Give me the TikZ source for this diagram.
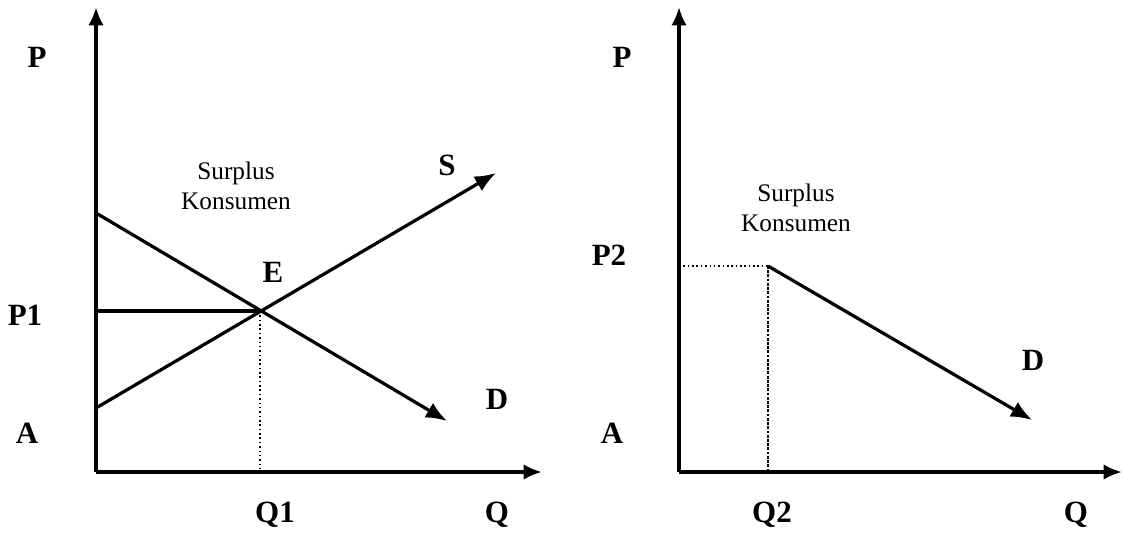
\documentclass[tikz,border=0pt]{standalone}
\usepackage{fontspec}
\setmainfont{Liberation Serif}
\usetikzlibrary{arrows.meta}
\tikzset{
  axisline/.style={line width=2.8pt, -{Latex[length=13pt,width=11pt]}},
  curveline/.style={line width=2.3pt, -{Latex[length=15pt,width=12pt]}},
  plainline/.style={line width=2.6pt},
  guidethin/.style={line width=1.1pt, dotted},
  guidethick/.style={line width=2pt, densely dotted},
  axislabel/.style={inner sep=0pt, font=\fontsize{22}{24}\selectfont\bfseries},
  arealabel/.style={inner sep=0pt, align=center, font=\fontsize{18}{21}\selectfont},
}

\begin{document}
\begin{tikzpicture}[x=0.025cm, y=-0.025cm]
    \useasboundingbox (0,0) rectangle (1123,535);

    % left chart: market equilibrium
    \coordinate (originL) at (96,472);
    \coordinate (ptopL) at (96,7);
    \coordinate (qendL) at (542,472);
    \coordinate (dstartL) at (96,213);
    \coordinate (dendL) at (447,421);
    \coordinate (sstartL) at (96,408);
    \coordinate (sendL) at (496,173);
    \coordinate (eqE) at (260,311);
    \coordinate (pOne) at (96,311);
    \coordinate (qOne) at (260,472);

    \draw[axisline] (originL) -- (ptopL);
    \draw[axisline] (originL) -- (qendL);
    \draw[curveline] (dstartL) -- (dendL);
    \draw[curveline] (sstartL) -- (sendL);
    \draw[plainline] (pOne) -- (eqE);
    \draw[guidethin] (eqE) -- (qOne);

    \node[axislabel] (labPL) at (37,57) {P};
    \node[axislabel] (labPOne) at (25,315) {P1};
    \node[axislabel] (labAL) at (27,433) {A};
    \node[axislabel] (labE) at (273,272) {E};
    \node[axislabel] (labS) at (447,165) {S};
    \node[axislabel] (labDL) at (497,399) {D};
    \node[axislabel] (labQOne) at (275,515) {Q1};
    \node[axislabel] (labQL) at (497,515) {Q};
    \node[arealabel] (surplusL) at (236,186) {Surplus\\Konsumen};

    % right chart: fixed price
    \coordinate (originR) at (679,472);
    \coordinate (ptopR) at (679,7);
    \coordinate (qendR) at (1122,472);
    \coordinate (pTwo) at (679,266);
    \coordinate (cornerR) at (768,266);
    \coordinate (qTwo) at (768,472);
    \coordinate (dendR) at (1032,420);

    \draw[axisline] (originR) -- (ptopR);
    \draw[axisline] (originR) -- (qendR);
    \draw[curveline] (cornerR) -- (dendR);
    \draw[guidethin] (pTwo) -- (cornerR);
    \draw[guidethick] (cornerR) -- (qTwo);

    \node[axislabel] (labPR) at (622,57) {P};
    \node[axislabel] (labPTwo) at (609,255) {P2};
    \node[axislabel] (labAR) at (612,433) {A};
    \node[axislabel] (labDR) at (1033,360) {D};
    \node[axislabel] (labQTwo) at (772,515) {Q2};
    \node[axislabel] (labQR) at (1076,515) {Q};
    \node[arealabel] (surplusR) at (796,208) {Surplus\\Konsumen};
\end{tikzpicture}
\end{document}
